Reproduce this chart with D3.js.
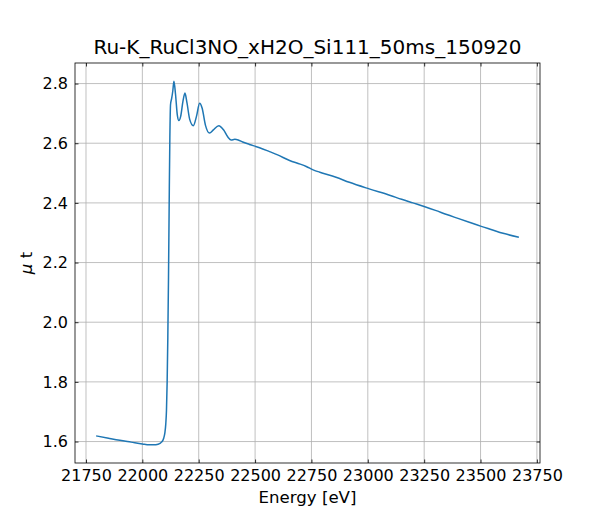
<!DOCTYPE html>
<html>
<head>
<meta charset="utf-8">
<script src="https://cdn.jsdelivr.net/npm/d3@7"></script>
<style>
  body { margin: 0; background: #fff; }
  svg text { font-family: "DejaVu Sans", sans-serif; fill: #000; }
</style>
</head>
<body>
<svg id="chart"></svg>
<script>
const width = 600;
const height = 520;
const margin = {left: 75, right: 60, top: 63, bottom: 57};
const line_color = '#1f77b4';

const title_text = 'Ru-K_RuCl3NO_xH2O_Si111_50ms_150920';
const x_ticks = [21750, 22000, 22250, 22500, 22750, 23000, 23250, 23500, 23750];
const y_ticks = [1.6, 1.8, 2.0, 2.2, 2.4, 2.6, 2.8];

// energy (eV) and absorbance
const energy = [21795, 21850, 21900, 21950, 22000, 22030, 22050, 22070, 22085, 22095,
  22100, 22104, 22107, 22110, 22113, 22116, 22119, 22122, 22125, 22130,
  22135, 22140, 22147, 22155, 22162, 22170, 22180, 22189, 22198, 22210,
  22226, 22240, 22254, 22265, 22280, 22298, 22315, 22339, 22360, 22380,
  22394, 22410, 22425, 22445, 22475, 22520, 22564, 22600, 22653, 22700,
  22727, 22760, 22787, 22859, 22918, 23006, 23100, 23150, 23200, 23250,
  23300, 23350, 23400, 23450, 23500, 23550, 23600, 23670];
const mu = [1.619, 1.611, 1.604, 1.598, 1.592, 1.589, 1.589, 1.591, 1.598, 1.612,
  1.630, 1.660, 1.705, 1.80, 1.95, 2.15, 2.40, 2.62, 2.730, 2.750,
  2.775, 2.808, 2.765, 2.695, 2.676, 2.690, 2.740, 2.768, 2.735, 2.680,
  2.659, 2.690, 2.734, 2.718, 2.660, 2.634, 2.645, 2.659, 2.645, 2.620,
  2.611, 2.613, 2.611, 2.604, 2.596, 2.585, 2.572, 2.561, 2.542, 2.530,
  2.522, 2.510, 2.503, 2.486, 2.469, 2.447, 2.425, 2.412, 2.400, 2.388,
  2.375, 2.361, 2.348, 2.335, 2.322, 2.310, 2.298, 2.285];

const data = energy.map((e, i) => ({x: e, y: mu[i]}));

const svg = d3.select('#chart')
  .attr('width', width)
  .attr('height', height)
  .attr('viewBox', [0, 0, width, height]);

const x0 = margin.left, x1 = width - margin.right;
const y0 = height - margin.bottom, y1 = margin.top;

// matplotlib style 5% margins
const xpad = (d3.max(energy) - d3.min(energy)) * 0.05;
const ypad = (d3.max(mu) - d3.min(mu)) * 0.05;
const x = d3.scaleLinear()
  .domain([d3.min(energy) - xpad, d3.max(energy) + xpad])
  .range([x0, x1]);
const y = d3.scaleLinear()
  .domain([d3.min(mu) - ypad, d3.max(mu) + ypad])
  .range([y0, y1]);

// grid
const grid = svg.append('g').attr('id', 'grid');
grid.selectAll('line.gx').data(x_ticks).enter().append('line')
  .attr('x1', d => x(d)).attr('x2', d => x(d))
  .attr('y1', y1).attr('y2', y0)
  .attr('stroke', '#b0b0b0').attr('stroke-width', 0.8);
grid.selectAll('line.gy').data(y_ticks).enter().append('line')
  .attr('x1', x0).attr('x2', x1)
  .attr('y1', d => y(d)).attr('y2', d => y(d))
  .attr('stroke', '#b0b0b0').attr('stroke-width', 0.8);

// data line
svg.append('path')
  .datum(data)
  .attr('fill', 'none')
  .attr('stroke', line_color)
  .attr('stroke-width', 1.5)
  .attr('stroke-linejoin', 'round')
  .attr('d', d3.line().x(d => x(d.x)).y(d => y(d.y)).curve(d3.curveMonotoneX));

// axes with inward ticks on all sides
const axis_bottom = svg.append('g').attr('transform', `translate(0,${y0})`)
  .call(d3.axisBottom(x).tickValues(x_ticks).tickFormat(d3.format('d')).tickSizeInner(-3.5).tickSizeOuter(0).tickPadding(7));
const axis_top = svg.append('g').attr('transform', `translate(0,${y1})`)
  .call(d3.axisTop(x).tickValues(x_ticks).tickFormat('').tickSizeInner(-3.5).tickSizeOuter(0));
const axis_left = svg.append('g').attr('transform', `translate(${x0},0)`)
  .call(d3.axisLeft(y).tickValues(y_ticks).tickFormat(d3.format('.1f')).tickSizeInner(-3.5).tickSizeOuter(0).tickPadding(7));
const axis_right = svg.append('g').attr('transform', `translate(${x1},0)`)
  .call(d3.axisRight(y).tickValues(y_ticks).tickFormat('').tickSizeInner(-3.5).tickSizeOuter(0));

[axis_bottom, axis_top, axis_left, axis_right].forEach(g => {
  g.select('.domain').remove();
  g.selectAll('.tick line').attr('stroke', '#000').attr('stroke-width', 0.8);
  g.selectAll('.tick text').attr('font-size', 16).attr('font-family', 'DejaVu Sans').attr('fill', '#000');
});

// frame
svg.append('rect')
  .attr('x', x0).attr('y', y1)
  .attr('width', x1 - x0).attr('height', y0 - y1)
  .attr('fill', 'none').attr('stroke', '#000').attr('stroke-width', 0.8);

// title and labels
svg.append('text')
  .attr('x', (x0 + x1) / 2).attr('y', 54)
  .attr('text-anchor', 'middle')
  .attr('font-size', 20)
  .text(title_text);

svg.append('text')
  .attr('x', (x0 + x1) / 2).attr('y', 503)
  .attr('text-anchor', 'middle')
  .attr('font-size', 16.6)
  .text('Energy [eV]');

const ylab = svg.append('text')
  .attr('transform', `translate(32,${(y0 + y1) / 2}) rotate(-90)`)
  .attr('text-anchor', 'middle')
  .attr('font-size', 16.6);
ylab.append('tspan').attr('font-style', 'italic').text('μ');
ylab.append('tspan').text(' t');
</script>
</body>
</html>
